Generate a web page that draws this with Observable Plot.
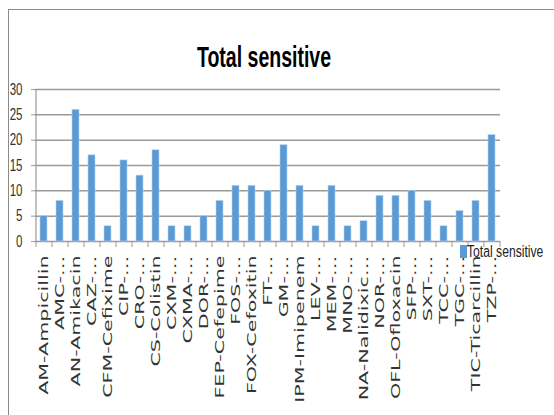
<!DOCTYPE html>
<html><head><meta charset="utf-8">
<script src="https://cdn.jsdelivr.net/npm/d3@7"></script>
<script src="https://cdn.jsdelivr.net/npm/@observablehq/plot@0.6"></script>
<style>
body{margin:0;background:#fff;}
#wrap{position:relative;width:554px;height:415px;overflow:hidden;background:#fff;}
#frame{position:absolute;left:8px;top:9px;width:600px;height:500px;border-left:1px solid #8a8a8a;border-top:1px solid #8a8a8a;}
#title{position:absolute;left:114px;width:300px;top:42px;text-align:center;font-family:"Liberation Sans",Arial,sans-serif;font-weight:bold;font-size:30px;line-height:30px;color:#000;transform:scaleX(0.65);transform-origin:center;white-space:nowrap;}
#chart{position:absolute;left:0;top:80px;}
#legend{position:absolute;left:460px;top:245px;display:flex;align-items:flex-start;}
#legend .sw{width:7px;height:13px;background:#5B9BD5;}
#legend .tx{font-family:"Liberation Sans",Arial,sans-serif;font-size:16px;line-height:16px;color:#222;transform:scaleX(0.76);transform-origin:left;white-space:nowrap;margin-top:-1px;}
</style></head>
<body>
<div id="wrap">
  <div id="frame"></div>
  <div id="title">Total sensitive</div>
  <div id="chart"></div>
  <div id="legend"><div class="sw"></div><div class="tx">Total sensitive</div></div>
</div>
<script>
const codes = ["AM-Ampicillin","AMC-…","AN-Amikacin","CAZ-…","CFM-Cefixime","CIP-…","CRO-…","CS-Colistin","CXM-…","CXMA-…","DOR-…","FEP-Cefepime","FOS-…","FOX-Cefoxitin","FT-…","GM-…","IPM-Imipenem","LEV-…","MEM-…","MNO-…","NA-Nalidixic…","NOR-…","OFL-Ofloxacin","SFP-…","SXT-…","TCC-…","TGC-…","TIC-Ticarcillin","TZP-…"];
const values = [5,8,26,17,3,16,13,18,3,3,5,8,11,11,10,19,11,3,11,3,4,9,9,10,8,3,6,8,21];
const yTicks = [0,5,10,15,20,25,30];

const data = codes.map((c,i)=>({code:c, value:values[i]}));

const W = 554, H = 335;
const mL = 35, mR = 54, mT = 9, mB = H - 9 - 152;
const step = (W - mL - mR) / codes.length;

const plot = Plot.plot({
  width: W, height: H,
  marginTop: mT, marginBottom: mB, marginLeft: mL, marginRight: mR,
  style: {fontFamily: "'DejaVu Sans', sans-serif", background: "transparent", color: "#333"},
  x: {domain: codes, paddingInner: 0.56, paddingOuter: 0.28, label: null},
  y: {domain: [0, 30], label: null},
  marks: [
    Plot.gridY(yTicks, {stroke: "#9a9a9a", strokeOpacity: 1, strokeWidth: 1.5}),
    Plot.ruleX([codes[0]], {y1: 0, y2: 30, dx: -step/2, stroke: "#9a9a9a", strokeWidth: 1.2}),
    Plot.axisY(yTicks, {tickSize: 4, tickPadding: 9, fontSize: 16, fontFamily: "'Liberation Sans', Arial, sans-serif", stroke: "#9a9a9a", fill: "#333", label: null}),
    Plot.axisX(codes, {tickSize: 6, tickFormat: () => "", dx: -step/2, stroke: "#9a9a9a", label: null}),
    Plot.axisX([codes[codes.length-1]], {tickSize: 6, tickFormat: () => "", dx: step/2, stroke: "#9a9a9a", label: null}),
    Plot.axisX(codes, {tickSize: 0, tickPadding: 14, tickRotate: -90, fontSize: 12, fill: "#333", label: null}),
    Plot.barY(data, {x: "code", y: "value", fill: "#5B9BD5", stroke: "#b5d0ee", strokeWidth: 0.6})
  ]
});
document.getElementById("chart").appendChild(plot);

const svg = d3.select(plot);
svg.selectAll('g[aria-label="x-axis tick label"] text').each(function(){
  const t = d3.select(this).attr("transform") || "";
  d3.select(this).attr("transform", t + " scale(1.72,1)");
});
svg.selectAll('g[aria-label="y-axis tick label"] text').each(function(){
  const t = d3.select(this).attr("transform") || "";
  d3.select(this).attr("transform", t + " scale(0.72,1)");
});
</script>
</body></html>
